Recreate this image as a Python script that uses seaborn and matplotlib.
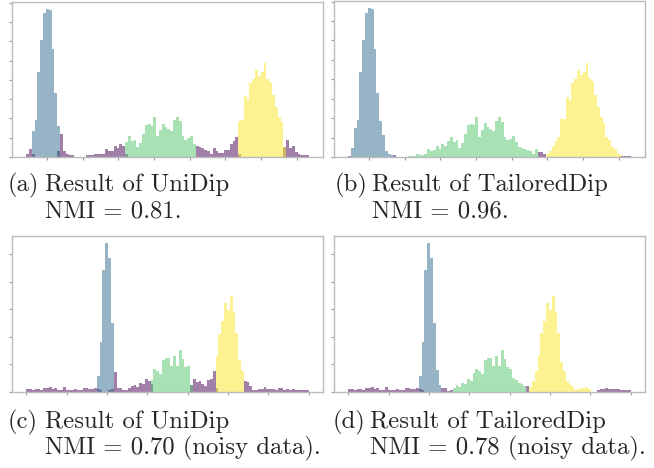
"""
plot.py - four layered cluster histograms with subfigure captions.
"""
import numpy as np
import pandas as pd
import matplotlib
matplotlib.use('Agg')
import matplotlib.pyplot as plt
from matplotlib.ticker import MultipleLocator
import seaborn as sns

# -- Style --
sns.set_style('white')
plt.rcParams['mathtext.fontset'] = 'cm'
plt.rcParams['axes.unicode_minus'] = False

W, H = 654, 468
NBINS = 100
CLUSTERS = ['noise', 'c1', 'c2', 'c3']
COLORS = ['#440154', '#31688e', '#50c46a', '#fde725']

# ---- data: per-bin counts, (first bin, values) ----
# (a) UniDip
A_PURPLE = (0, [3, 8.6, 3, 0, 0, 0, 0, 0, 0, 0, 0, 6, 24, 6, 3, 2, 2]
            + [0] * 4
            + [2, 2, 2, 3.5, 3, 3, 3.5, 8, 6, 6.5, 11, 9, 13, 11, 3]
            + [0] * 24
            + [11, 10, 9, 7.6, 6, 3.5, 9, 6, 4, 4, 7, 7.6, 13, 17, 21, 3]
            + [0] * 15
            + [10, 18, 9, 11, 5, 3, 2, 2, 2])
A_BLUE = (2, [26.6, 38.6, 88.6, 121, 149, 153, 152, 112, 66, 32])
A_GREEN = (35, [15.2, 21.4, 16.2, 17.9, 10.3, 14.5, 24.1, 33.1, 33.8, 32.4,
                41, 21.4, 28.3, 34.5, 30.7, 29, 27.2, 37.9, 41, 36.9,
                22, 17.9, 19.7, 22, 13.8])
A_YELLOW = (75, [37.6, 38.6, 62.8, 59, 76.6, 80.7, 90, 84, 87.6, 97,
                 81, 78, 64.5, 52, 41, 36, 10])

# (b) TailoredDip
B_PURPLE = (0, [1] + [0] * 15 + [2] + [0] * 50 + [5.5, 5, 3.5]
            + [0] * 26 + [1, 1, 1, 1])
B_BLUE = (1, [9, 30, 38.6, 88, 121, 148, 153, 152, 111, 65.5, 37, 23, 6, 3, 2])
B_GREEN = (21, [1.4, 1, 1.4, 2.8, 2, 2.4, 3.4, 8, 6, 7.6,
                11, 8.6, 13, 11.4, 16.6, 20.7, 15.5, 18, 9.7, 14.5,
                23.4, 32.8, 33.8, 32.8, 40.7, 20.7, 27.6, 34.5, 31, 29,
                27, 37, 40.7, 36, 21, 17, 19, 22, 15.5, 10,
                9.7, 8.6, 7.6, 6, 3.5, 8.6])
B_YELLOW = (70, [2.8, 6, 11, 16.6, 20.7, 39, 39, 62, 59, 76.5,
                 80, 90, 84.5, 88, 97, 81, 78, 64, 52, 40.7,
                 35, 20.7, 17, 10, 8.6, 3.4, 1.7])

# (c) UniDip, noisy data
NOISE_LEFT = [2, 2, 1.4, 2, 2, 1.4, 2.6, 3.1, 3.4, 2.4, 2.6, 1.2, 1.2,
              3.4, 1.4, 1.4, 1.7, 2, 1.4, 1.4, 2.6, 2.6, 2.4, 2.4, 2.6]
C_PURPLE = (0, NOISE_LEFT
            + [2, 1.5, 0, 0, 1.5, 2]
            + [14.2, 2.9, 3.1, 1.7, 1.4, 2.9, 4.1, 5.3, 3.6, 6.5, 6, 9.4, 7.7, 6]
            + [0] * 13
            + [5.3, 9.4, 7.2, 7.7, 6, 4.1, 9, 9.6, 15, 3]
            + [0] * 9
            + [8, 7.5, 4, 1.7, 1.7, 2.4, 2.4, 3.6, 2.4, 2.4, 2.2, 1.7,
               2.6, 3, 1.7, 2.4, 1.7, 2, 1.4, 1.7, 1.4, 1.4, 1.7])
C_BLUE = (25, [11.3, 36.6, 88.4, 107.7, 97.3, 50])
C_GREEN = (44, [8.4, 16.6, 15, 13.3, 23.4, 24.6, 24.8, 18.6, 26.3, 19,
                30.6, 23.9, 18, 18.6, 5.3])
C_YELLOW = (67, [26, 42, 51.5, 64.8, 59.5, 69.6, 58.3, 43, 23, 15])

# (d) TailoredDip, noisy data
D_PURPLE = (0, NOISE_LEFT
            + [2, 1.5, 0, 0, 0, 0, 0, 0]
            + [2.6, 2.9, 1.0, 1.4]
            + [0] * 26
            + [4]
            + [0] * 24
            + [1.4, 2, 2.4, 2.6, 2.4, 2.2, 2.4, 2, 1.7, 1.4, 1.7, 1.2])
D_BLUE = (25, [11.3, 36.6, 88.4, 107.7, 97.3, 50, 16, 5.3])
D_GREEN = (37, [2.9, 5.3, 3.6, 6.5, 6, 9.4, 7.7, 14, 16.6, 15,
                13.3, 23.4, 24.6, 24.8, 18.6, 26.3, 19, 30.6, 23.9, 18,
                16.6, 10, 8.4, 6.5, 6, 4])
D_YELLOW = (64, [3.6, 7.7, 15, 27, 42.6, 51.8, 64.8, 59.5, 69.6, 58.3,
                 42.6, 22, 15, 7.7, 6, 4, 1.2, 2.2, 2.9, 2.9, 3.4, 2])

# x range of the data (in tick units) for each panel
X_RANGE_AB = (-0.58, 7.34)
X_RANGE_CD = (0.0, 7.0)

CAPTIONS = [
    ('(a)', 'Result of UniDip', 'NMI = 0.81.'),
    ('(b)', 'Result of TailoredDip', 'NMI = 0.96.'),
    ('(c)', 'Result of UniDip', 'NMI = 0.70 (noisy data).'),
    ('(d)', 'Result of TailoredDip', 'NMI = 0.78 (noisy data).'),
]


def to_frame(series_list, lo, hi):
    edges = np.linspace(lo, hi, NBINS + 1)
    centers = (edges[:-1] + edges[1:]) / 2
    rows = []
    for name, (start, vals) in zip(CLUSTERS, series_list):
        for k, v in enumerate(vals):
            rows.append((centers[start + k], v, name))
    return pd.DataFrame(rows, columns=['x', 'count', 'cluster']), edges.tolist()


def draw_panel(ax, series_list, xr):
    df, edges = to_frame(series_list, *xr)
    # purple first so the clusters sit on top of it
    for name, color in zip(CLUSTERS, COLORS):
        sub = df[df['cluster'] == name]
        sns.histplot(data=sub, x='x', weights='count', bins=edges,
                     color=color, alpha=0.5, linewidth=0, ax=ax)
    span = xr[1] - xr[0]
    ax.set_xlim(xr[0] - 0.05 * span, xr[1] + 0.05 * span)
    ax.set_ylim(0, df['count'].max() * 1.05)
    ax.xaxis.set_major_locator(MultipleLocator(1))
    ax.yaxis.set_major_locator(MultipleLocator(20))
    ax.tick_params(bottom=True, left=True, direction='out', length=2,
                   width=0.8, color='#999999',
                   labelbottom=False, labelleft=False)
    ax.set_xlabel('')
    ax.set_ylabel('')
    for s in ax.spines.values():
        s.set_color('#bbbbbb')
        s.set_linewidth(1.0)


def px_axes(fig, x0, y0, x1, y1):
    return fig.add_axes([x0 / W, 1 - y1 / H, (x1 - x0) / W, (y1 - y0) / H])


fig = plt.figure(figsize=(W / 100, H / 100), dpi=100)
boxes = [(12, 2, 323, 157), (334, 1, 645, 157),
         (12, 236, 323, 392), (334, 236, 645, 392)]
panels = [
    ([A_PURPLE, A_BLUE, A_GREEN, A_YELLOW], X_RANGE_AB),
    ([B_PURPLE, B_BLUE, B_GREEN, B_YELLOW], X_RANGE_AB),
    ([C_PURPLE, C_BLUE, C_GREEN, C_YELLOW], X_RANGE_CD),
    ([D_PURPLE, D_BLUE, D_GREEN, D_YELLOW], X_RANGE_CD),
]
for box, (series_list, xr) in zip(boxes, panels):
    ax = px_axes(fig, *box)
    draw_panel(ax, series_list, xr)

# -- captions --
cap_pos = [(8, 191), (335, 191), (8, 428), (333, 428)]
for (x, y), (tag, line1, line2) in zip(cap_pos, CAPTIONS):
    kw = dict(family='cmr10', fontsize=17.8, va='baseline', ha='left')
    fig.text(x / W, 1 - y / H, tag, **kw)
    fig.text((x + 37) / W, 1 - y / H, line1, **kw)
    fig.text((x + 37) / W, 1 - (y + 26) / H, line2, **kw)

fig.savefig('out.png', dpi=100, facecolor='white')
